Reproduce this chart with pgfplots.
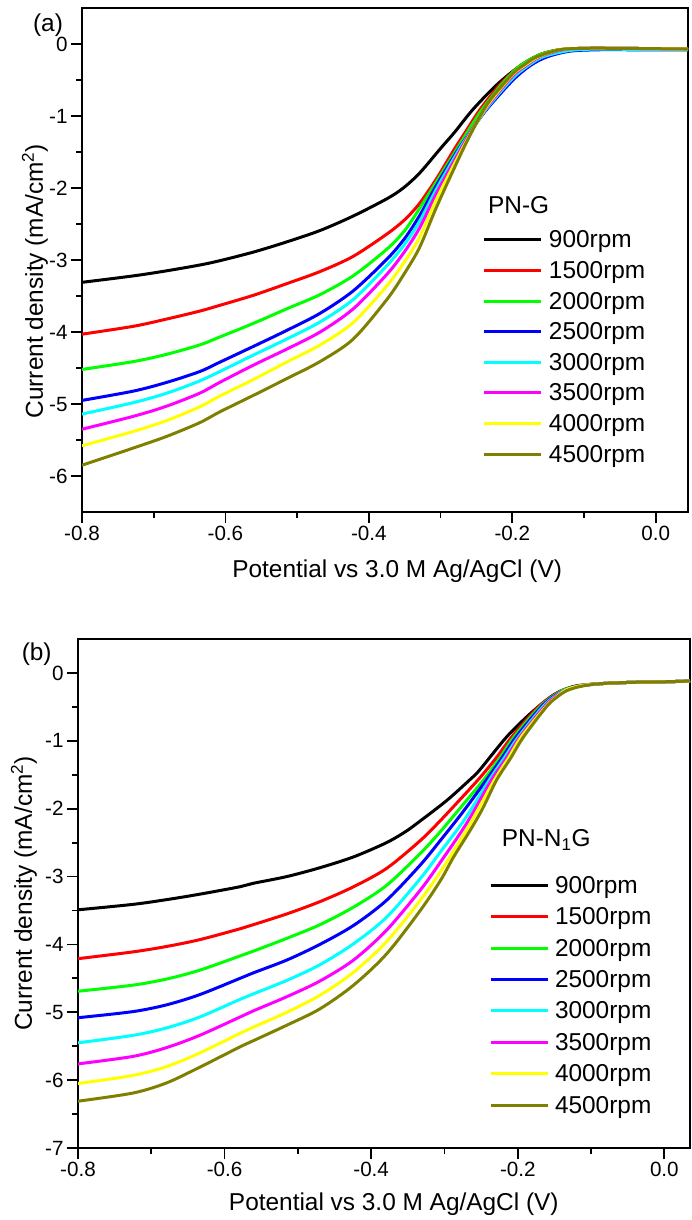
\documentclass[border=0pt]{standalone}
\usepackage{fontspec}
\setmainfont{Liberation Sans}
\usepackage{pgfplots}
\pgfplotsset{compat=1.18}
\definecolor{cblack}{RGB}{0,0,0}
\definecolor{cred}{RGB}{255,0,0}
\definecolor{cgreen}{RGB}{0,255,0}
\definecolor{cblue}{RGB}{0,0,255}
\definecolor{ccyan}{RGB}{0,255,255}
\definecolor{cmag}{RGB}{255,0,255}
\definecolor{cyel}{RGB}{255,255,0}
\definecolor{colive}{RGB}{128,128,0}
\newcommand{\myle}[1]{\addlegendentry{\hspace{6bp}#1}}
\pgfplotsset{
 myaxis/.style={
  scale only axis, anchor=south west,
  xmin=-0.8,
  xtick={-0.8,-0.6,-0.4,-0.2,0.0}, xticklabels={-0.8,-0.6,-0.4,-0.2,0.0},
  minor x tick num=1, minor y tick num=1,
  tick align=outside, xtick pos=left, ytick pos=left,
  major tick length=11bp, minor tick length=5.5bp,
  every tick/.style={black, line width=1.8bp},
  axis line style={line width=2bp},
  tick label style={font=\fontsize{20.7}{24}\selectfont},
  label style={font=\fontsize{24.5}{29}\selectfont},
  every axis plot/.append style={line width=3bp, mark=none, smooth, tension=0.5},
  legend cell align=left,
  legend image code/.code={\draw[#1, line width=3bp, sharp plot] (0bp,0bp) -- (57bp,0bp);},
  legend style={anchor=north west, draw=none, fill=none, inner sep=0pt, outer sep=0pt,
    font=\fontsize{24.5}{29}\selectfont, nodes={inner sep=0pt, text height=16bp, text depth=0bp}},
  xlabel={Potential vs 3.0 M Ag/AgCl (V)},
  ylabel={Current density (mA/cm\textsuperscript{2})},
 }
}
\begin{document}
\begin{tikzpicture}
\path[use as bounding box] (0,0) rectangle (692bp,-1220bp);
% ---------------- panel (a)
\begin{axis}[myaxis, at={(82bp,-512bp)}, width=606bp, height=504bp,
  xmax=0.045, ymin=-6.5, ymax=0.5,
  ytick={-6,-5,-4,-3,-2,-1,0}, yticklabels={-6,-5,-4,-3,-2,-1,0},
  xlabel style={at={(axis description cs:0.52,-0.129)}, anchor=base},
  ylabel style={at={(axis description cs:-0.0644,0.458)}, anchor=base},
  legend style={at={(axis description cs:0.6617,0.5556)}, row sep=14.6bp}]
\addplot[cblack] coordinates {(-0.80,-3.31)(-0.728,-3.22)(-0.682,-3.15)(-0.636,-3.07)(-0.608,-3.01)(-0.561,-2.89)(-0.515,-2.75)(-0.468,-2.59)(-0.422,-2.39)(-0.375,-2.15)(-0.352,-2.00)(-0.329,-1.79)(-0.30,-1.45)(-0.28,-1.22)(-0.255,-0.91)(-0.222,-0.57)(-0.19,-0.31)(-0.162,-0.15)(-0.134,-0.08)(-0.10,-0.06)(-0.05,-0.06)(0.0,-0.065)(0.045,-0.07)};
\myle{900rpm}
\addplot[cred] coordinates {(-0.80,-4.03)(-0.728,-3.92)(-0.682,-3.82)(-0.636,-3.71)(-0.608,-3.63)(-0.561,-3.49)(-0.515,-3.33)(-0.468,-3.16)(-0.422,-2.95)(-0.375,-2.64)(-0.35,-2.44)(-0.329,-2.21)(-0.305,-1.86)(-0.282,-1.48)(-0.262,-1.17)(-0.245,-0.91)(-0.217,-0.56)(-0.19,-0.31)(-0.162,-0.15)(-0.134,-0.08)(-0.10,-0.06)(-0.05,-0.06)(0.0,-0.065)(0.045,-0.07)};
\myle{1500rpm}
\addplot[cgreen] coordinates {(-0.80,-4.52)(-0.728,-4.41)(-0.682,-4.31)(-0.636,-4.18)(-0.608,-4.07)(-0.561,-3.88)(-0.515,-3.68)(-0.468,-3.48)(-0.422,-3.22)(-0.375,-2.85)(-0.35,-2.59)(-0.329,-2.28)(-0.305,-1.90)(-0.278,-1.47)(-0.258,-1.15)(-0.24,-0.88)(-0.213,-0.54)(-0.19,-0.31)(-0.162,-0.15)(-0.134,-0.08)(-0.10,-0.06)(-0.05,-0.06)(0.0,-0.065)(0.045,-0.07)};
\myle{2000rpm}
\addplot[cblue] coordinates {(-0.80,-4.95)(-0.728,-4.82)(-0.682,-4.70)(-0.636,-4.55)(-0.608,-4.42)(-0.561,-4.20)(-0.515,-3.98)(-0.468,-3.74)(-0.422,-3.43)(-0.375,-2.99)(-0.35,-2.70)(-0.329,-2.38)(-0.305,-1.95)(-0.277,-1.49)(-0.255,-1.17)(-0.235,-0.90)(-0.199,-0.50)(-0.175,-0.30)(-0.152,-0.18)(-0.12,-0.10)(-0.08,-0.08)(-0.03,-0.08)(0.045,-0.08)};
\myle{2500rpm}
\addplot[ccyan] coordinates {(-0.80,-5.14)(-0.728,-4.98)(-0.682,-4.85)(-0.636,-4.68)(-0.608,-4.55)(-0.561,-4.32)(-0.515,-4.10)(-0.468,-3.86)(-0.422,-3.55)(-0.375,-3.08)(-0.35,-2.78)(-0.329,-2.46)(-0.305,-2.00)(-0.275,-1.48)(-0.253,-1.14)(-0.233,-0.86)(-0.199,-0.47)(-0.175,-0.28)(-0.155,-0.17)(-0.12,-0.09)(-0.08,-0.07)(-0.03,-0.075)(0.045,-0.08)};
\myle{3000rpm}
\addplot[cmag] coordinates {(-0.80,-5.35)(-0.728,-5.17)(-0.682,-5.03)(-0.636,-4.85)(-0.608,-4.70)(-0.561,-4.46)(-0.515,-4.24)(-0.468,-4.00)(-0.422,-3.68)(-0.375,-3.20)(-0.35,-2.88)(-0.329,-2.55)(-0.305,-2.06)(-0.273,-1.48)(-0.252,-1.12)(-0.232,-0.83)(-0.199,-0.44)(-0.178,-0.28)(-0.16,-0.17)(-0.13,-0.08)(-0.10,-0.06)(-0.05,-0.06)(0.0,-0.065)(0.045,-0.07)};
\myle{3500rpm}
\addplot[cyel] coordinates {(-0.80,-5.58)(-0.728,-5.38)(-0.682,-5.23)(-0.636,-5.04)(-0.608,-4.89)(-0.561,-4.66)(-0.515,-4.42)(-0.468,-4.18)(-0.422,-3.87)(-0.375,-3.36)(-0.35,-3.02)(-0.329,-2.68)(-0.305,-2.14)(-0.271,-1.48)(-0.25,-1.10)(-0.231,-0.80)(-0.199,-0.42)(-0.18,-0.28)(-0.164,-0.18)(-0.134,-0.08)(-0.10,-0.06)(-0.05,-0.06)(0.0,-0.065)(0.045,-0.07)};
\myle{4000rpm}
\addplot[colive] coordinates {(-0.80,-5.85)(-0.728,-5.61)(-0.682,-5.45)(-0.636,-5.26)(-0.608,-5.11)(-0.561,-4.88)(-0.515,-4.65)(-0.468,-4.41)(-0.422,-4.10)(-0.375,-3.55)(-0.35,-3.18)(-0.329,-2.82)(-0.305,-2.25)(-0.269,-1.47)(-0.249,-1.08)(-0.231,-0.78)(-0.199,-0.41)(-0.182,-0.28)(-0.166,-0.18)(-0.134,-0.08)(-0.10,-0.06)(-0.05,-0.06)(0.0,-0.065)(0.045,-0.07)};
\myle{4500rpm}
\end{axis}
% ---------------- panel (b)
\begin{axis}[myaxis, at={(78bp,-1148bp)}, width=612bp, height=509bp,
  xmax=0.035, ymin=-7, ymax=0.5,
  ytick={-7,-6,-5,-4,-3,-2,-1,0}, yticklabels={-7,-6,-5,-4,-3,-2,-1,0},
  xlabel style={at={(axis description cs:0.516,-0.122)}, anchor=base},
  ylabel style={at={(axis description cs:-0.0752,0.5)}, anchor=base},
  legend style={at={(axis description cs:0.6716,0.532)}, row sep=15.4bp}]
\addplot[cblack] coordinates {(-0.80,-3.49)(-0.725,-3.41)(-0.679,-3.34)(-0.634,-3.26)(-0.579,-3.15)(-0.561,-3.10)(-0.515,-3.00)(-0.470,-2.87)(-0.424,-2.71)(-0.379,-2.50)(-0.352,-2.33)(-0.333,-2.18)(-0.297,-1.88)(-0.265,-1.57)(-0.252,-1.43)(-0.215,-0.94)(-0.183,-0.60)(-0.156,-0.36)(-0.140,-0.26)(-0.12,-0.19)(-0.09,-0.16)(-0.05,-0.14)(0.0,-0.13)(0.035,-0.12)};
\myle{900rpm}
\addplot[cred] coordinates {(-0.80,-4.21)(-0.725,-4.11)(-0.679,-4.03)(-0.634,-3.93)(-0.579,-3.77)(-0.561,-3.71)(-0.515,-3.55)(-0.470,-3.37)(-0.424,-3.15)(-0.379,-2.88)(-0.333,-2.47)(-0.306,-2.18)(-0.28,-1.88)(-0.253,-1.56)(-0.23,-1.26)(-0.208,-0.94)(-0.172,-0.50)(-0.150,-0.32)(-0.135,-0.24)(-0.115,-0.19)(-0.09,-0.16)(-0.05,-0.14)(0.0,-0.13)(0.035,-0.12)};
\myle{1500rpm}
\addplot[cgreen] coordinates {(-0.80,-4.69)(-0.725,-4.60)(-0.679,-4.51)(-0.634,-4.38)(-0.579,-4.17)(-0.561,-4.10)(-0.515,-3.91)(-0.470,-3.71)(-0.424,-3.45)(-0.379,-3.13)(-0.333,-2.66)(-0.305,-2.33)(-0.277,-1.97)(-0.247,-1.58)(-0.225,-1.26)(-0.205,-0.94)(-0.170,-0.50)(-0.150,-0.33)(-0.135,-0.24)(-0.115,-0.19)(-0.09,-0.16)(-0.05,-0.14)(0.0,-0.13)(0.035,-0.12)};
\myle{2000rpm}
\addplot[cblue] coordinates {(-0.80,-5.08)(-0.725,-4.99)(-0.679,-4.89)(-0.634,-4.74)(-0.579,-4.50)(-0.561,-4.42)(-0.515,-4.23)(-0.470,-4.00)(-0.424,-3.72)(-0.379,-3.35)(-0.333,-2.83)(-0.305,-2.46)(-0.275,-2.05)(-0.243,-1.58)(-0.222,-1.26)(-0.202,-0.94)(-0.168,-0.50)(-0.150,-0.34)(-0.135,-0.25)(-0.115,-0.19)(-0.09,-0.16)(-0.05,-0.14)(0.0,-0.13)(0.035,-0.12)};
\myle{2500rpm}
\addplot[ccyan] coordinates {(-0.80,-5.45)(-0.725,-5.34)(-0.679,-5.23)(-0.634,-5.07)(-0.579,-4.81)(-0.561,-4.73)(-0.515,-4.53)(-0.470,-4.30)(-0.424,-3.99)(-0.379,-3.60)(-0.333,-3.03)(-0.305,-2.63)(-0.272,-2.15)(-0.239,-1.58)(-0.219,-1.26)(-0.199,-0.94)(-0.166,-0.50)(-0.150,-0.35)(-0.135,-0.25)(-0.115,-0.19)(-0.09,-0.16)(-0.05,-0.14)(0.0,-0.13)(0.035,-0.12)};
\myle{3000rpm}
\addplot[cmag] coordinates {(-0.80,-5.76)(-0.725,-5.65)(-0.679,-5.52)(-0.634,-5.34)(-0.579,-5.07)(-0.561,-4.98)(-0.515,-4.77)(-0.470,-4.54)(-0.424,-4.23)(-0.379,-3.79)(-0.333,-3.20)(-0.305,-2.78)(-0.270,-2.22)(-0.236,-1.58)(-0.216,-1.26)(-0.197,-0.94)(-0.164,-0.50)(-0.150,-0.36)(-0.134,-0.25)(-0.115,-0.19)(-0.09,-0.16)(-0.05,-0.14)(0.0,-0.13)(0.035,-0.12)};
\myle{3500rpm}
\addplot[cyel] coordinates {(-0.80,-6.05)(-0.725,-5.93)(-0.679,-5.80)(-0.634,-5.60)(-0.579,-5.31)(-0.561,-5.22)(-0.515,-5.00)(-0.470,-4.75)(-0.424,-4.41)(-0.379,-3.96)(-0.333,-3.35)(-0.305,-2.92)(-0.268,-2.28)(-0.232,-1.58)(-0.213,-1.26)(-0.195,-0.94)(-0.162,-0.50)(-0.148,-0.36)(-0.134,-0.25)(-0.115,-0.19)(-0.09,-0.16)(-0.05,-0.14)(0.0,-0.13)(0.035,-0.12)};
\myle{4000rpm}
\addplot[colive] coordinates {(-0.80,-6.31)(-0.725,-6.19)(-0.679,-6.04)(-0.634,-5.81)(-0.579,-5.51)(-0.561,-5.42)(-0.515,-5.19)(-0.470,-4.95)(-0.424,-4.60)(-0.379,-4.14)(-0.333,-3.50)(-0.305,-3.05)(-0.288,-2.72)(-0.265,-2.32)(-0.248,-2.00)(-0.229,-1.58)(-0.210,-1.26)(-0.192,-0.94)(-0.161,-0.50)(-0.147,-0.36)(-0.133,-0.26)(-0.115,-0.20)(-0.09,-0.16)(-0.05,-0.14)(0.0,-0.13)(0.035,-0.12)};
\myle{4500rpm}
\end{axis}
\node[inner sep=0pt, font=\fontsize{24.5}{29}\selectfont] at (48bp,-25bp) {(a)};
\node[inner sep=0pt, font=\fontsize{24.5}{29}\selectfont] at (36.7bp,-654bp) {(b)};
\node[inner sep=0pt, anchor=base west, font=\fontsize{24.5}{29}\selectfont] at (488bp,-213bp) {PN-G};
\node[inner sep=0pt, anchor=base west, font=\fontsize{24.5}{29}\selectfont] at (501.7bp,-846.7bp) {PN-N\textsubscript{1}G};
\end{tikzpicture}
\end{document}
